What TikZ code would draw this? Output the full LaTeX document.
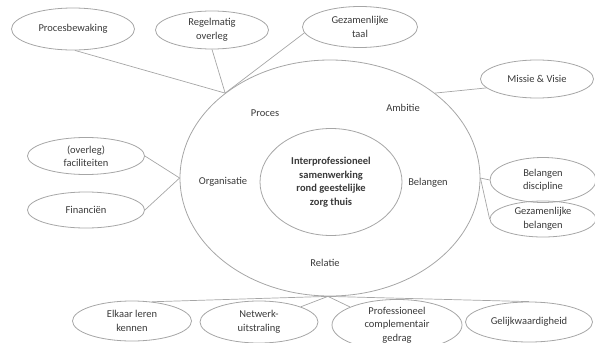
\documentclass[tikz,border=0pt]{standalone}
\usepackage{fontspec}
\setmainfont{Carlito}
\usetikzlibrary{shapes.geometric}
\definecolor{edge}{HTML}{A6A6A6}
\definecolor{txt}{HTML}{3A3A3A}
\begin{document}
\begin{tikzpicture}[x=1pt,y=-1pt,
  font=\fontsize{10.5}{13.5}\selectfont, text=txt,
  bub/.style={ellipse, draw=edge, line width=0.8pt, inner sep=0pt, align=center},
  lbl/.style={inner sep=1pt},
  link/.style={draw=edge, line width=0.7pt}]
\useasboundingbox (0,0) rectangle (595,343);
% main ellipses
\node[bub, minimum width=300pt, minimum height=236pt] (outer) at (330,178) {};
\node[bub, minimum width=142pt, minimum height=107pt,
      font=\bfseries\fontsize{10.5}{13.5}\selectfont] (inner) at (331,182)
  {Interprofessioneel\\samenwerking\\rond geestelijke\\zorg thuis};
% labels in ring
\node[lbl] (proces) at (265,113) {Proces};
\node[lbl] (ambitie) at (403,108) {Ambitie};
\node[lbl] (organisatie) at (223,182) {Organisatie};
\node[lbl] (belangen) at (428,183) {Belangen};
\node[lbl] (relatie) at (325,263) {Relatie};
% junctions on the ring
\coordinate (jtop) at (outer.141);
\coordinate (jmv) at (outer.39);
\coordinate (jleft) at (outer.180);
\coordinate (jright) at (outer.0);
\coordinate (jbot) at (outer.269);
% outer bubbles
\node[bub, minimum width=123pt, minimum height=42pt] (pb) at (73,29) {Procesbewaking};
\node[bub, minimum width=113pt, minimum height=38pt] (ro) at (212,30) {Regelmatig\\overleg};
\node[bub, minimum width=115pt, minimum height=41pt] (tl) at (360,27) {Gezamenlijke\\taal};
\node[bub, minimum width=113pt, minimum height=38pt] (mv) at (537,79) {Missie \& Visie};
\node[bub, minimum width=117pt, minimum height=37pt] (fac) at (86,156) {(overleg)\\faciliteiten};
\node[bub, minimum width=117pt, minimum height=36pt] (fin) at (86,210) {Financiën};
\node[bub, minimum width=106pt, minimum height=45pt] (bd) at (543,180) {Belangen\\discipline};
\node[bub, minimum width=106pt, minimum height=36pt] (gb) at (543,219) {Gezamenlijke\\belangen};
\node[bub, minimum width=119pt, minimum height=40pt] (ek) at (132,321) {Elkaar leren\\kennen};
\node[bub, minimum width=118pt, minimum height=42pt] (nw) at (259,322) {Netwerk-\\uitstraling};
\node[bub, minimum width=130pt, minimum height=45pt] (pc) at (397,325) {Professioneel\\complementair\\gedrag};
\node[bub, minimum width=127pt, minimum height=40pt] (gw) at (529,322) {Gelijkwaardigheid};
% connectors
\draw[link] (pb.-85) -- (jtop);
\draw[link] (ro.south) -- (jtop);
\draw[link] (tl.186) -- (jtop);
\draw[link] (mv.190) -- (jmv);
\draw[link] (fac.east) -- (jleft);
\draw[link] (fin.east) -- (jleft);
\draw[link] (bd.west) -- (jright);
\draw[link] (gb.west) -- (jright);
\draw[link] (ek.44) -- (jbot);
\draw[link] (nw.20) -- (jbot);
\draw[link] (pc.159) -- (jbot);
\draw[link] (gw.north) -- (jbot);
\end{tikzpicture}
\end{document}
